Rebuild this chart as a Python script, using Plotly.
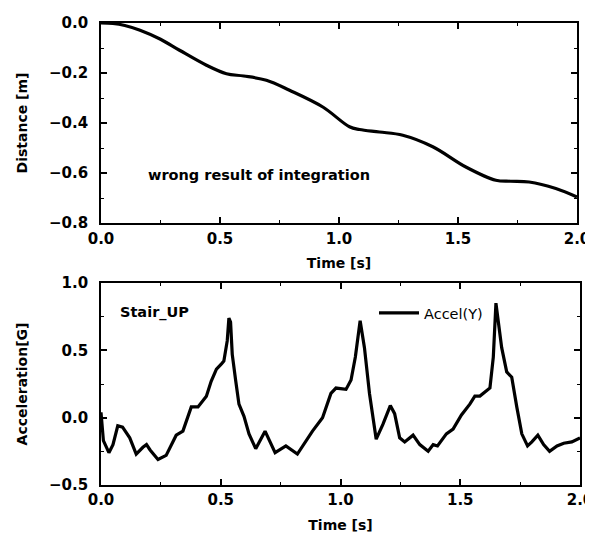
import plotly.graph_objects as go

# ---- data ----
dist_t = [0, 0.05, 0.1, 0.164, 0.25, 0.33, 0.443, 0.527, 0.6, 0.695, 0.792, 0.932,
          1.044, 1.086, 1.17, 1.268, 1.394, 1.533, 1.659, 1.72, 1.799, 1.911, 2.0]
dist_m = [0, -0.002, -0.01, -0.029, -0.065, -0.109, -0.169, -0.203, -0.212, -0.229, -0.269, -0.336,
          -0.415, -0.426, -0.436, -0.449, -0.495, -0.576, -0.629, -0.633, -0.636, -0.662, -0.696]

acc_t = [0, 0.01, 0.033, 0.05, 0.07, 0.09, 0.12, 0.147, 0.175, 0.19, 0.205, 0.238, 0.272,
         0.314, 0.342, 0.377, 0.405, 0.44, 0.46, 0.482, 0.503, 0.513, 0.527, 0.534, 0.541,
         0.548, 0.562, 0.576, 0.597, 0.618, 0.646, 0.685, 0.727, 0.772, 0.82, 0.883, 0.925,
         0.96, 0.981, 1.023, 1.044, 1.062, 1.082, 1.1, 1.121, 1.149, 1.177, 1.208, 1.226,
         1.247, 1.268, 1.303, 1.331, 1.366, 1.387, 1.405, 1.442, 1.47, 1.505, 1.54, 1.561,
         1.582, 1.624, 1.638, 1.649, 1.659, 1.673, 1.694, 1.715, 1.736, 1.757, 1.781, 1.799,
         1.824, 1.848, 1.873, 1.904, 1.932, 1.966, 2.0]
acc_g = [0.04, -0.17, -0.26, -0.2, -0.06, -0.07, -0.15, -0.27, -0.22, -0.2, -0.24, -0.31, -0.28,
         -0.13, -0.10, 0.08, 0.08, 0.16, 0.27, 0.36, 0.40, 0.42, 0.57, 0.74, 0.71,
         0.47, 0.28, 0.10, 0.01, -0.12, -0.23, -0.10, -0.26, -0.21, -0.27, -0.10, 0.00,
         0.18, 0.22, 0.21, 0.28, 0.45, 0.72, 0.52, 0.18, -0.16, -0.05, 0.09, 0.03,
         -0.15, -0.18, -0.13, -0.2, -0.25, -0.2, -0.21, -0.12, -0.085, 0.02, 0.10, 0.16,
         0.16, 0.22, 0.45, 0.85, 0.72, 0.52, 0.34, 0.30, 0.08, -0.12, -0.21, -0.18,
         -0.13, -0.2, -0.25, -0.21, -0.19, -0.18, -0.15]

x_ticks = [0.0, 0.5, 1.0, 1.5, 2.0]
dist_ticks = [0.0, -0.2, -0.4, -0.6, -0.8]
acc_ticks = [-0.5, 0.0, 0.5, 1.0]

FONT = "DejaVu Sans"
tickfont = dict(family=FONT, size=15, color="black", weight="bold")
titlefont = dict(family=FONT, size=14, color="black", weight="bold")

fig = go.Figure()
fig.add_trace(go.Scatter(x=dist_t, y=dist_m, mode="lines", line=dict(color="black", width=3.2, shape="spline"),
                         showlegend=False, xaxis="x", yaxis="y"))
fig.add_trace(go.Scatter(x=acc_t, y=acc_g, mode="lines", line=dict(color="black", width=3.2),
                         name="Accel(Y)", showlegend=True, xaxis="x2", yaxis="y2"))

axis_common = dict(showline=True, linecolor="black", linewidth=1.6, mirror="allticks",
                   ticks="inside", ticklen=6, tickwidth=1.5, tickcolor="black",
                   showgrid=False, zeroline=False, tickfont=tickfont, automargin=False,
                   ticklabeloverflow="allow",
                   minor=dict(ticks="inside", ticklen=3, tickwidth=1, tickcolor="black", showgrid=False))

# the page body adds an 8px offset; figure sized so the page does not overflow.
# plot area sits at screen x 101..580, y 23..485
OFF = 8
FIG_W = 593 - OFF
FIG_H = 535 - OFF
W = 580 - 101
H = 485 - 23
fig.update_layout(
    width=FIG_W, height=FIG_H,
    margin=dict(l=101 - OFF, r=FIG_W - (580 - OFF), t=23 - OFF, b=FIG_H - (485 - OFF), autoexpand=False),
    paper_bgcolor="white", plot_bgcolor="white",
    xaxis=dict(axis_common, domain=[0, (577 - 101) / W], range=[0, 2], tickvals=x_ticks, tickformat=".1f",
               minor=dict(axis_common["minor"], dtick=0.25), anchor="y", ticklabelstandoff=1,
               title=dict(text="Time [s]", font=titlefont, standoff=11)),
    yaxis=dict(axis_common, domain=[(485 - 223) / H, 1], range=[-0.8, 0], tickvals=dist_ticks,
               tickformat=".1f", minor=dict(axis_common["minor"], dtick=0.1), anchor="x",
               ticklabelstandoff=8,
               title=dict(text="Distance [m]", font=titlefont, standoff=18)),
    xaxis2=dict(axis_common, domain=[0, 1], range=[0, 2], tickvals=x_ticks, tickformat=".1f",
                minor=dict(axis_common["minor"], dtick=0.25), anchor="y2", ticklabelstandoff=0,
                title=dict(text="Time [s]", font=titlefont, standoff=12)),
    yaxis2=dict(axis_common, domain=[0, (485 - 283) / H], range=[-0.5, 1.0], tickvals=acc_ticks,
                tickformat=".1f", minor=dict(axis_common["minor"], dtick=0.25), anchor="x2",
                ticklabelstandoff=8,
                title=dict(text="Acceleration[G]", font=titlefont, standoff=18)),
    legend=dict(x=(374 - 101) / W, y=(485 - 313) / H, xanchor="left", yanchor="middle",
                bgcolor="rgba(0,0,0,0)", borderwidth=0, itemwidth=40,
                font=dict(family=FONT, size=14.5, color="black")),
    annotations=[
        dict(text="wrong result of integration", x=0.664, y=-0.608, xref="x", yref="y",
             showarrow=False, font=dict(family=FONT, size=14.5, color="black", weight="bold")),
        dict(text="Stair_UP", x=0.225, y=0.78, xref="x2", yref="y2",
             showarrow=False, font=dict(family=FONT, size=14.5, color="black", weight="bold")),
    ],
)

fig.write_html("out.html")
